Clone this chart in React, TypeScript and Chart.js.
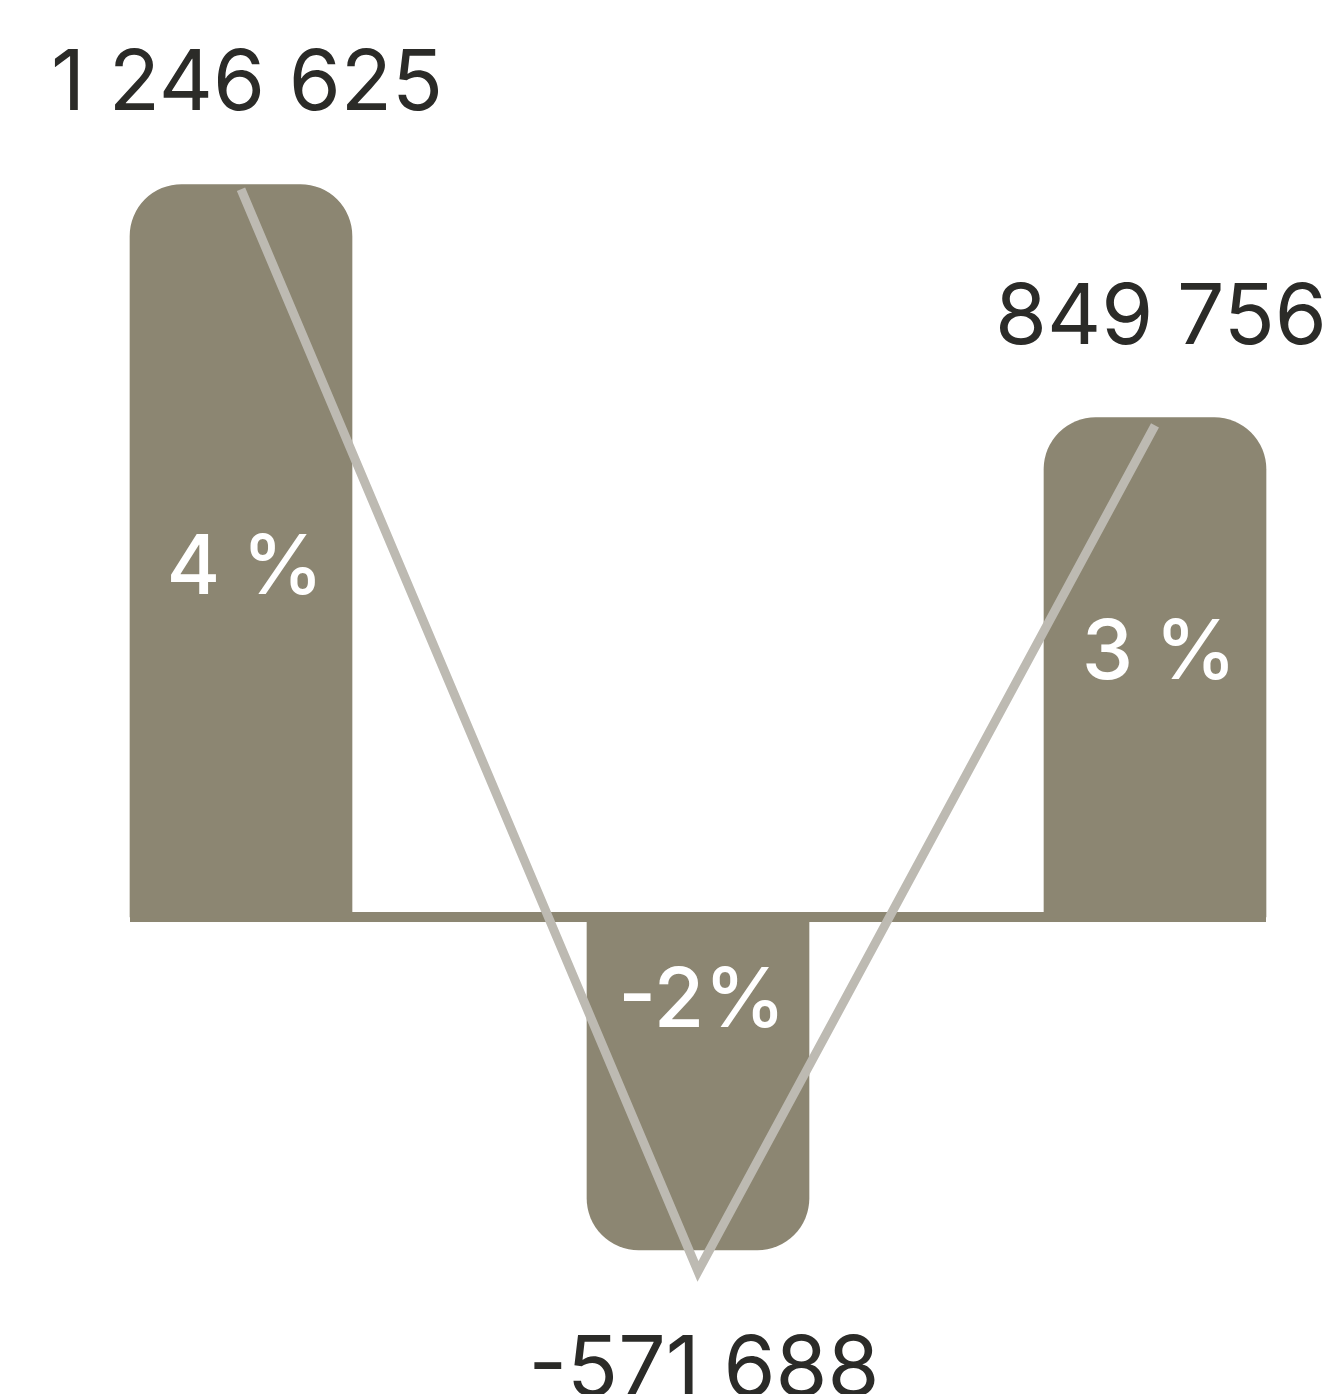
import React, { useEffect, useRef } from "react";
import { Chart, registerables } from "chart.js";

Chart.register(...registerables);

const categories = ["1", "2", "3"];
const changePct = [4.4, -2.0, 3.0];
const pctLabels = ["4 %", "-2%", "3 %"];
const amounts = [1246625, -571688, 849756];
const amountLabels = ["1 246 625", "-571 688", "849 756"];

const BAR_COLOR = "#8c8672";
const LINE_COLOR = "#bdbab2";
const TEXT_COLOR = "#2b2b28";
const FONT = "Inter, 'Noto Sans', sans-serif";

const labelPlugin = {
  id: "labelPlugin",
  beforeDatasetsDraw(chart: any) {
    const meta = chart.getDatasetMeta(1);
    const y = chart.scales.y;
    const ctx = chart.ctx;
    const first = meta.data[0];
    const last = meta.data[meta.data.length - 1];
    const zero = y.getPixelForValue(0);
    ctx.save();
    ctx.fillStyle = BAR_COLOR;
    ctx.fillRect(first.x - first.width / 2, zero - 5, last.x + last.width / 2 - (first.x - first.width / 2), 10);
    ctx.restore();
  },
  afterDatasetsDraw(chart: any) {
    const meta = chart.getDatasetMeta(1);
    const ctx = chart.ctx;
    const capH = 61;
    ctx.save();
    ctx.textAlign = "center";
    ctx.textBaseline = "alphabetic";
    meta.data.forEach((bar: any, i: number) => {
      const top = bar.y;
      const base = bar.base;
      const positive = changePct[i] >= 0;
      // amount labels
      ctx.fillStyle = TEXT_COLOR;
      ctx.font = `400 84px ${FONT}`;
      const ax = bar.x + 6;
      const ay = positive ? top - 74 : top + 85 + capH;
      ctx.fillText(amountLabels[i], ax, ay);
      // pct labels
      ctx.fillStyle = "#ffffff";
      ctx.font = `500 82px ${FONT}`;
      const h = Math.abs(base - top);
      const cy = positive ? base - (85 + 0.366 * h) : base + 0.24 * h;
      ctx.fillText(pctLabels[i], bar.x + 4, cy + 30);
    });
    ctx.restore();
  },
};

export default function App() {
  const ref = useRef<HTMLCanvasElement | null>(null);
  useEffect(() => {
    if (!ref.current) return;
    const chart = new Chart(ref.current, {
      type: "bar",
      data: {
        labels: categories,
        datasets: [
          {
            type: "line",
            data: amounts,
            yAxisID: "y2",
            borderColor: LINE_COLOR,
            borderWidth: 9,
            pointRadius: 0,
            borderJoinStyle: "miter",
            borderCapStyle: "butt",
            tension: 0,
            order: 0,
            clip: false,
          } as any,
          {
            type: "bar",
            data: changePct,
            yAxisID: "y",
            backgroundColor: BAR_COLOR,
            barThickness: 222,
            borderRadius: 52,
            borderSkipped: "start",
            order: 1,
            clip: false,
          } as any,
        ],
      },
      options: {
        responsive: false,
        animation: false,
        devicePixelRatio: 1,
        layout: { padding: { left: 241, right: 182, top: 0, bottom: 0 } },
        plugins: { legend: { display: false }, tooltip: { enabled: false } },
        scales: {
          x: { display: false, offset: false, grid: { display: false } },
          y: { display: false, min: -2.865, max: 5.508 },
          y2: { display: false, min: -777550, max: 1564516 },
        },
      },
      plugins: [labelPlugin],
    });
    return () => chart.destroy();
  }, []);
  return (
    <div style={{ position: "absolute", left: 0, top: 0, width: 1337, height: 1394, background: "#fff" }}>
      <canvas ref={ref} width={1337} height={1394} style={{ display: "block", width: 1337, height: 1394 }} />
    </div>
  );
}
